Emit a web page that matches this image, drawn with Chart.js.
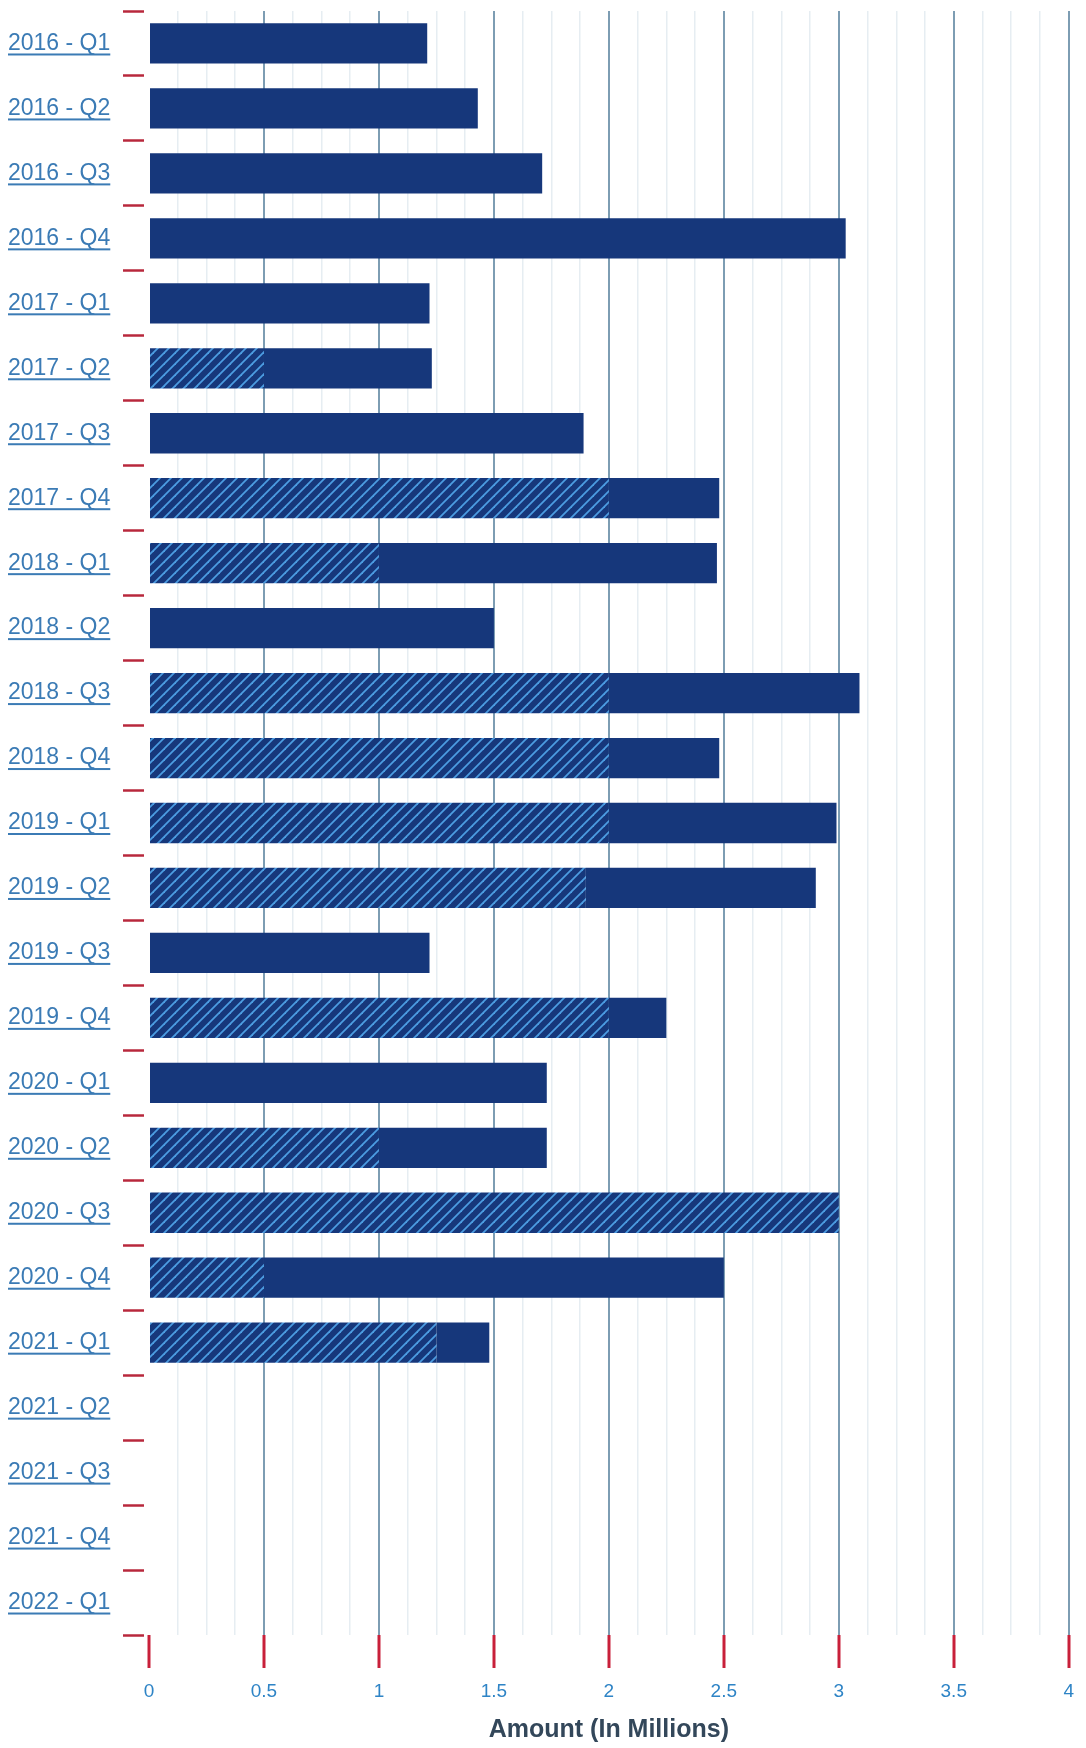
<!DOCTYPE html>
<html>
<head>
<meta charset="utf-8">
<script src="https://cdn.jsdelivr.net/npm/chart.js@4.4.1/dist/chart.umd.min.js"></script>
<style>
  html, body { margin: 0; padding: 0; background: #fff; }
  #wrap { width: 1086px; height: 1748px; }
</style>
</head>
<body>
<div id="wrap"><canvas id="amountChart"></canvas></div>
<script>
// ---------------- data (millions) ----------------
const quarters = [
  '2016 - Q1', '2016 - Q2', '2016 - Q3', '2016 - Q4',
  '2017 - Q1', '2017 - Q2', '2017 - Q3', '2017 - Q4',
  '2018 - Q1', '2018 - Q2', '2018 - Q3', '2018 - Q4',
  '2019 - Q1', '2019 - Q2', '2019 - Q3', '2019 - Q4',
  '2020 - Q1', '2020 - Q2', '2020 - Q3', '2020 - Q4',
  '2021 - Q1', '2021 - Q2', '2021 - Q3', '2021 - Q4',
  '2022 - Q1'
];
// striped part of each bar
const hatchedPart = [0, 0, 0, 0, 0, 0.5, 0, 2.0, 1.0, 0, 2.0, 2.0, 2.0, 1.9, 0, 2.0, 0, 1.0, 3.0, 0.5, 1.25, null, null, null, null];
// solid part, stacked after the striped part
const solidPart = [1.21, 1.43, 1.71, 3.03, 1.22, 0.73, 1.89, 0.48, 1.47, 1.5, 1.09, 0.48, 0.99, 1.0, 1.22, 0.25, 1.73, 0.73, 0, 2.0, 0.23, null, null, null, null];
const xTicks = [0, 0.5, 1, 1.5, 2, 2.5, 3, 3.5, 4];

const NAVY = '#16377b';
const FONT = '"Liberation Sans", Arial, sans-serif';

// diagonal stripe pattern
function makeStripes() {
  const n = 11;
  const c = document.createElement('canvas');
  c.width = n; c.height = n;
  const g = c.getContext('2d');
  g.fillStyle = NAVY;
  g.fillRect(0, 0, n, n);
  g.strokeStyle = '#4c9de2';
  g.lineWidth = 1.8;
  [[-n / 2, n / 2, n / 2, -n / 2], [0, n, n, 0], [n / 2, n * 1.5, n * 1.5, n / 2]].forEach(l => {
    g.beginPath();
    g.moveTo(l[0], l[1]);
    g.lineTo(l[2], l[3]);
    g.stroke();
  });
  return g.createPattern(c, 'repeat');
}

// underline for the quarter labels
const underline = {
  id: 'underline',
  afterDraw(chart) {
    const s = chart.scales.y;
    const ctx = chart.ctx;
    ctx.save();
    ctx.font = '23px ' + FONT;
    ctx.fillStyle = '#3b7bb5';
    s.ticks.forEach((t, i) => {
      const y = s.getPixelForTick(i);
      const w = ctx.measureText(t.label).width;
      ctx.fillRect(s.left, y + 10, w, 2);
    });
    ctx.restore();
  }
};

const isMajor = v => Math.abs(v * 2 - Math.round(v * 2)) < 1e-9;

new Chart(document.getElementById('amountChart'), {
  type: 'bar',
  data: {
    labels: quarters,
    datasets: [
      { data: hatchedPart, backgroundColor: makeStripes(), borderWidth: 0 },
      { data: solidPart, backgroundColor: NAVY, borderWidth: 0 }
    ]
  },
  options: {
    indexAxis: 'y',
    responsive: true,
    maintainAspectRatio: false,
    animation: false,
    layout: { padding: { left: 8, top: 11, right: 10, bottom: 0 } },
    datasets: { bar: { barPercentage: 0.62, categoryPercentage: 1 } },
    plugins: { legend: { display: false }, tooltip: { enabled: false } },
    scales: {
      x: {
        stacked: true,
        min: 0,
        max: 4,
        afterFit: s => { s.height = 113; },
        afterBuildTicks: s => {
          const t = [];
          for (let i = 0; i <= 32; i++) t.push({ value: i * 0.125 });
          s.ticks = t;
        },
        border: { display: false },
        grid: {
          color: c => (c.tick && c.tick.value === 0) ? 'rgba(0,0,0,0)' : (isMajor(c.tick.value) ? '#7d9db3' : '#e6edf2'),
          lineWidth: c => isMajor(c.tick.value) ? 2 : 1.5,
          tickColor: c => isMajor(c.tick.value) ? '#c8203a' : 'rgba(0,0,0,0)',
          tickLength: 33,
          tickWidth: 3
        },
        ticks: {
          autoSkip: false,
          maxRotation: 0,
          padding: 12,
          color: '#2e84c6',
          font: { family: FONT, size: 19 },
          callback: v => xTicks.includes(v) ? String(v) : ''
        },
        title: {
          display: true,
          text: 'Amount (In Millions)',
          color: '#33475a',
          font: { family: FONT, size: 25, weight: 'bold' },
          padding: { top: 0, bottom: 3 }
        }
      },
      y: {
        stacked: true,
        afterFit: s => { s.width = 141; s.paddingTop = 0; s.paddingBottom = 0; },
        border: { display: false },
        grid: {
          offset: true,
          drawOnChartArea: false,
          tickColor: '#b8283c',
          tickLength: 26,
          tickWidth: 2.5,
          tickBorderDash: [21, 200]
        },
        ticks: {
          crossAlign: 'far',
          color: '#3b7bb5',
          font: { family: FONT, size: 23 },
          padding: 6
        }
      }
    }
  },
  plugins: [underline]
});
</script>
</body>
</html>
